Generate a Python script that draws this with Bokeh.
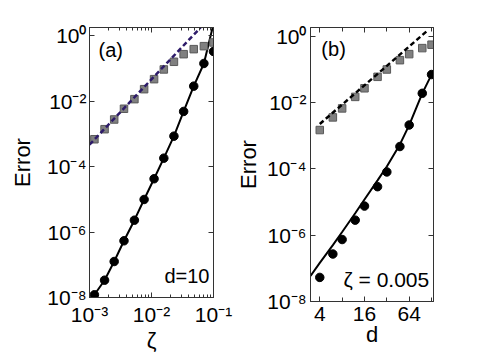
from bokeh.plotting import figure
from bokeh.layouts import row
from bokeh.models import LogAxis, FixedTicker, Label, Range1d
from bokeh.embed import file_html
from bokeh.resources import INLINE

# ---------------- data: panel (a) ----------------
zeta_a = [0.0012, 0.00175, 0.0025, 0.0036, 0.0053, 0.0076, 0.011, 0.0158,
          0.023, 0.033, 0.048, 0.070, 0.100]
err_sq_a = [6.9e-4, 1.40e-3, 2.77e-3, 5.9e-3, 1.16e-2, 2.34e-2, 4.74e-2,
            9.4e-2, 0.161, 0.275, 0.392, 0.484, 0.628]
err_ci_a = [1.21e-8, 3.38e-8, 1.26e-7, 5.42e-7, 2.31e-6, 9.93e-6, 4.27e-5,
            1.82e-4, 8.57e-4, 4.88e-3, 2.90e-2, 0.143, 0.333]
zeta_fit_a = [0.0010, 0.0012, 0.00175, 0.0025, 0.0036, 0.0053, 0.0076, 0.011,
              0.0158, 0.023, 0.033, 0.048, 0.070, 0.0975]
err_fit_a = [7.2e-9, 1.21e-8, 3.38e-8, 1.26e-7, 5.42e-7, 2.31e-6, 9.93e-6,
             4.27e-5, 1.82e-4, 8.57e-4, 4.88e-3, 2.90e-2, 0.143, 1.9]
zeta_dash_a = [0.0010, 0.062]
err_dash_a = [4.7e-4, 1.8]

# ---------------- data: panel (b) ----------------
d_b = [4, 6, 8, 12, 16, 24, 32, 48, 64, 96, 128]
err_sq_b = [1.49e-3, 3.59e-3, 6.71e-3, 1.49e-2, 2.71e-2, 6.01e-2, 0.100,
            0.191, 0.291, 0.442, 0.560]
err_ci_b = [5.33e-8, 2.71e-7, 7.41e-7, 2.85e-6, 7.57e-6, 2.91e-5, 8.11e-5,
            4.74e-4, 2.11e-3, 1.91e-2, 7.05e-2]
d_fit_b = [3, 4, 6, 8, 12, 16, 24, 32, 48, 64, 96, 128]
err_fit_b = [5.9e-8, 1.46e-7, 5.0e-7, 1.25e-6, 4.6e-6, 1.2e-5, 4.5e-5,
             1.18e-4, 5.5e-4, 2.1e-3, 1.9e-2, 7.0e-2]
d_dash_b = [4, 114]
err_dash_b = [2.26e-3, 1.52]

# ---------------- ticks ----------------
y_ticks = [1e-8, 1e-6, 1e-4, 1e-2, 1.0]
y_tick_labels = ["10⁻⁸", "10⁻⁶", "10⁻⁴", "10⁻²", "10⁰"]
xa_ticks = [1e-3, 1e-2, 1e-1]
xa_tick_labels = ["10⁻³", "10⁻²", "10⁻¹"]
xb_ticks = [4, 16, 64]
xb_tick_labels = ["4", "16", "64"]
xb_minor = [8, 32, 128]
xa_minor = [k * t for t in xa_ticks[:-1] for k in range(2, 10)]

FONT = "Liberation Sans"
AX = "#333333"
SQ_FILL = "#808080"
SQ_LINE = "#5a5a5a"
PURPLE = "#2d1b69"


def style_axis(ax, labels=True):
    ax.axis_line_color = AX
    ax.major_tick_line_color = AX
    ax.minor_tick_line_color = AX
    ax.major_tick_in = 5
    ax.major_tick_out = 0
    ax.minor_tick_in = 3
    ax.minor_tick_out = 0
    ax.major_label_text_font = FONT
    ax.major_label_text_color = "black"
    ax.axis_label_text_font = FONT
    ax.axis_label_text_font_style = "normal"
    ax.axis_label_text_color = "black"
    if labels:
        ax.major_label_text_font_size = "21px"
        ax.axis_label_text_font_size = "22px"
    else:
        ax.major_label_text_font_size = "2px"
        ax.major_label_text_alpha = 0
        ax.major_label_standoff = 0


def make_fig(xr, yr, fw, fh, bl, br, bt, bb):
    p = figure(frame_width=fw, frame_height=fh, x_axis_type="log", y_axis_type="log",
               x_range=Range1d(*xr), y_range=Range1d(*yr),
               output_backend="svg", toolbar_location=None,
               min_border_left=bl, min_border_right=br,
               min_border_top=bt, min_border_bottom=bb)
    p.xgrid.visible = False
    p.ygrid.visible = False
    p.outline_line_color = AX
    p.background_fill_color = "white"
    p.border_fill_color = "white"
    return p


def add_label(p, x, y, text, align, size="20px"):
    p.add_layout(Label(x=x, y=y, text=text, text_font=FONT, text_color="black",
                       text_font_size=size, text_baseline="middle",
                       text_align=align))


# ---------------- panel (a) ----------------
p1 = make_fig((1e-3, 1e-1), (1e-8, 1.8), 124, 270, 89, 20, 26, 50)
xt_a = FixedTicker(ticks=xa_ticks, minor_ticks=xa_minor)
yt = FixedTicker(ticks=y_ticks, minor_ticks=[])
p1.xaxis.ticker = xt_a
p1.yaxis.ticker = yt
p1.xaxis.major_label_overrides = dict(zip(xa_ticks, xa_tick_labels))
p1.yaxis.major_label_overrides = dict(zip(y_ticks, y_tick_labels))
p1.xaxis.axis_label = "ζ"
p1.yaxis.axis_label = "Error"
style_axis(p1.xaxis[0])
style_axis(p1.yaxis[0])
p1.xaxis.major_label_standoff = 5
p1.yaxis.major_label_standoff = 3
p1.xaxis.axis_label_standoff = -1
p1.yaxis.axis_label_standoff = 9
top_a = LogAxis(ticker=xt_a)
right_a = LogAxis(ticker=yt)
style_axis(top_a, labels=False)
style_axis(right_a, labels=False)
p1.add_layout(top_a, "above")
p1.add_layout(right_a, "right")

p1.line(zeta_fit_a, err_fit_a, line_color="black", line_width=2)
p1.scatter(zeta_a, err_sq_a, marker="square", size=7.5, fill_color=SQ_FILL,
           line_color=SQ_LINE, line_width=1)
p1.line(zeta_dash_a, err_dash_a, line_color=PURPLE, line_width=2.5, line_dash="5 3")
p1.scatter(zeta_a, err_ci_a, marker="circle", size=8.5, fill_color="black",
           line_color="black")
add_label(p1, 1.4e-3, 0.38, "(a)", "left")
add_label(p1, 0.086, 4.4e-8, "d=10", "right")

# ---------------- panel (b) ----------------
p2 = make_fig((3, 136), (1e-8, 1.85), 123, 274, 76, 40, 27, 45)
xt_b = FixedTicker(ticks=xb_ticks, minor_ticks=xb_minor)
yt_b = FixedTicker(ticks=y_ticks, minor_ticks=[])
p2.xaxis.ticker = xt_b
p2.yaxis.ticker = yt_b
p2.xaxis.major_label_overrides = dict(zip(xb_ticks, xb_tick_labels))
p2.yaxis.major_label_overrides = dict(zip(y_ticks, y_tick_labels))
p2.xaxis.axis_label = "d"
p2.yaxis.axis_label = "Error"
style_axis(p2.xaxis[0])
style_axis(p2.yaxis[0])
p2.xaxis.minor_tick_in = 4
p2.xaxis.major_label_standoff = 5
p2.yaxis.major_label_standoff = 4
p2.xaxis.axis_label_standoff = -2
p2.yaxis.axis_label_standoff = 3
top_b = LogAxis(ticker=xt_b)
right_b = LogAxis(ticker=yt_b)
style_axis(top_b, labels=False)
style_axis(right_b, labels=False)
top_b.minor_tick_in = 4
p2.add_layout(top_b, "above")
p2.add_layout(right_b, "right")

p2.line(d_fit_b, err_fit_b, line_color="black", line_width=2)
p2.scatter(d_b, err_sq_b, marker="square", size=7.5, fill_color=SQ_FILL,
           line_color=SQ_LINE, line_width=1)
p2.line(d_dash_b, err_dash_b, line_color="black", line_width=2.5, line_dash="5 3")
p2.scatter(d_b, err_ci_b, marker="circle", size=8.5, fill_color="black",
           line_color="black")
add_label(p2, 4.2, 0.43, "(b)", "left")
add_label(p2, 119, 4.7e-8, "ζ = 0.005", "right", "21px")

layout = row(p1, p2, spacing=0)
open("out.html", "w").write(file_html(layout, INLINE))
